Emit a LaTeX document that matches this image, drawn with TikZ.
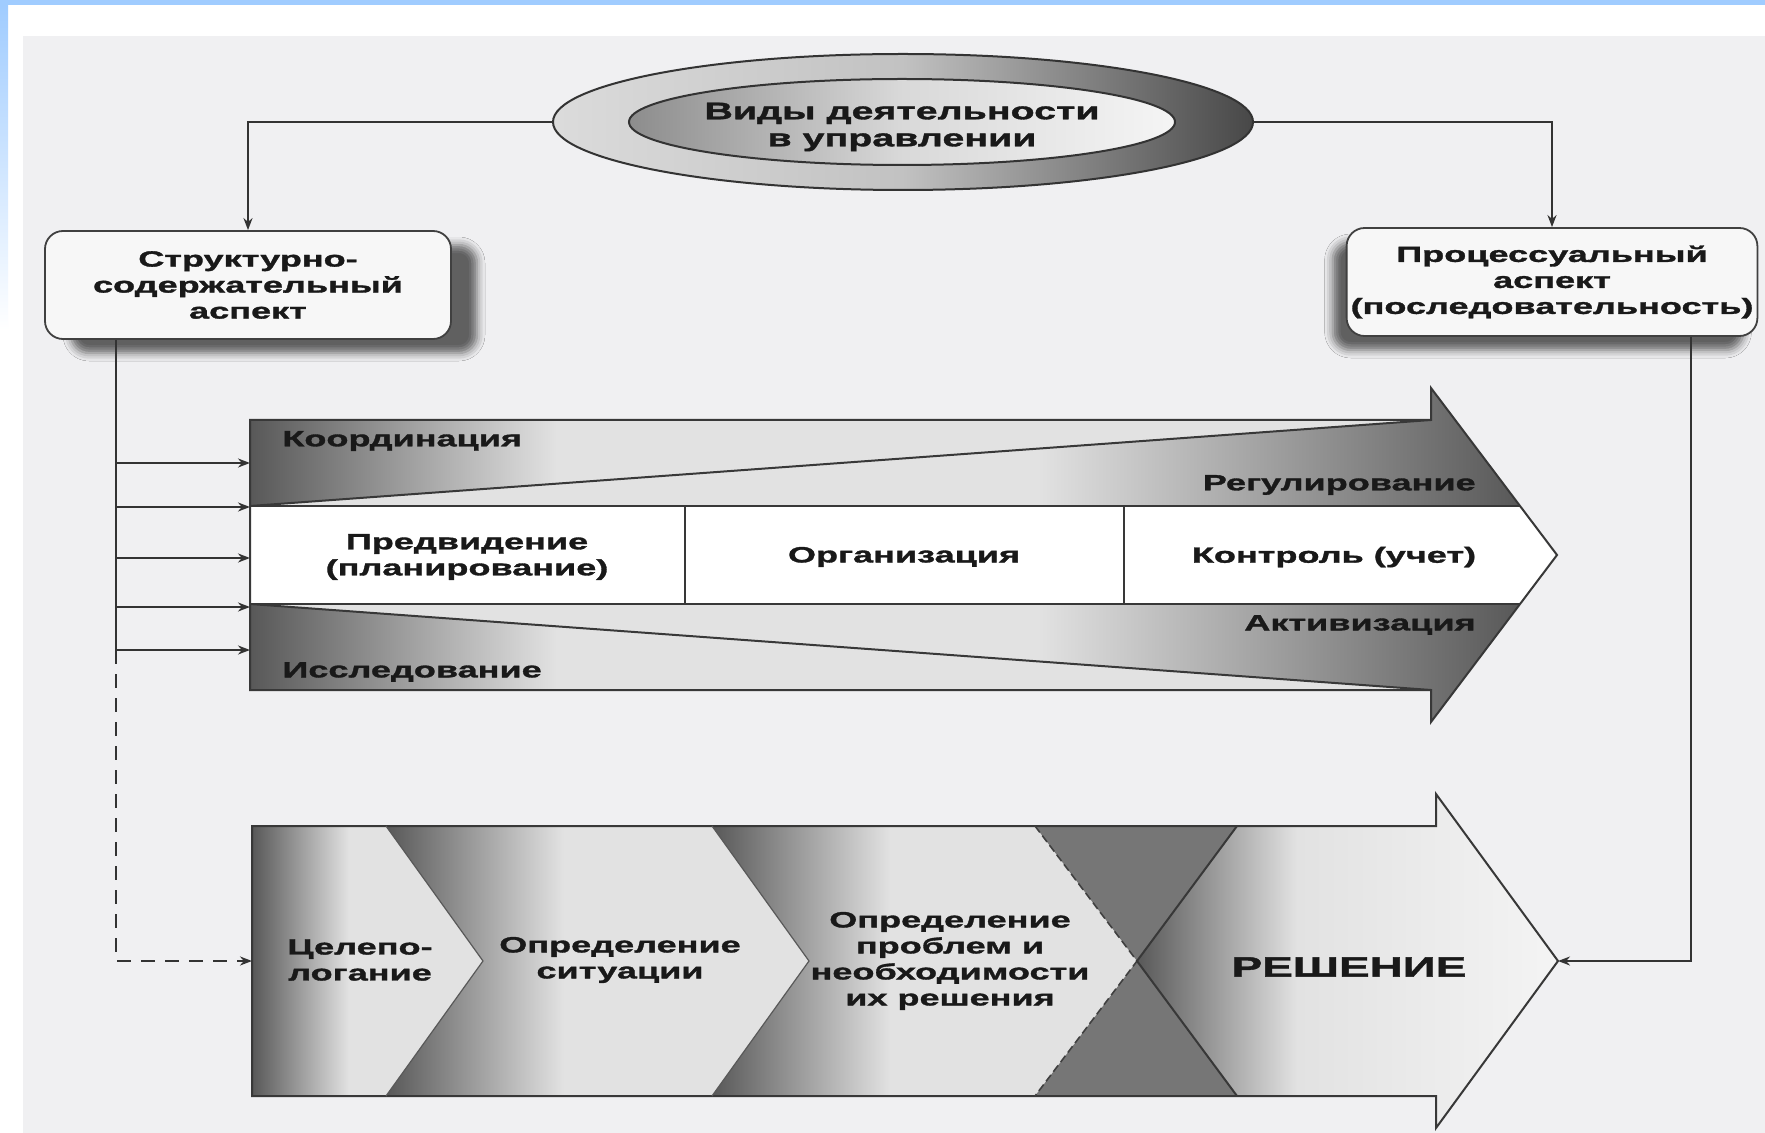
\documentclass[tikz,border=0pt]{standalone}
\usepackage{fontspec}
\newfontfamily\widesans{Liberation Sans}[FakeStretch=1.64, BoldFeatures={FakeBold=1.5}]
\usepackage{tikz}
\usetikzlibrary{arrows.meta,positioning,calc,shapes.geometric,shadows.blur}
\definecolor{shdark}{RGB}{88,88,88}
\definecolor{shlight}{RGB}{226,226,226}
\definecolor{shpale}{RGB}{244,244,244}
\pgfdeclarehorizontalshading{fadeout}{100bp}{color(0bp)=(shdark); color(25bp)=(shdark); color(38bp)=(shlight); color(100bp)=(shlight)}
\pgfdeclarehorizontalshading{fadein}{100bp}{color(0bp)=(shlight); color(56bp)=(shlight); color(75bp)=(shdark); color(100bp)=(shdark)}
\pgfdeclarehorizontalshading{segfade}{100bp}{color(0bp)=(shdark); color(25bp)=(shdark); color(46bp)=(shlight); color(100bp)=(shlight)}
\pgfdeclarehorizontalshading{solfade}{100bp}{color(0bp)=(shdark); color(25bp)=(shdark); color(44bp)=(shlight); color(75bp)=(shpale); color(100bp)=(shpale)}
\tikzset{
  >={Stealth[length=6pt,width=4.5pt]},
  every node/.append style={font=\widesans\bfseries\fontsize{11}{13}\selectfont, text=black!90},
}

\begin{document}
\begin{tikzpicture}[
    x=0.5pt, y=-0.5pt,
    side/.style={
        rectangle,
        draw=black!75,
        fill=white!97!black,
        rounded corners=9pt,
        line width=0.9pt,
        minimum width=203pt,
        minimum height=54pt,
        align=center,
        inner sep=2pt
    },
    arrow/.style={
        ->,
        line width=1pt,
        draw=black!80
    },
    dasharrow/.style={arrow, dash pattern=on 7pt off 5pt},
    band/.style={draw=black!78, line width=1pt},
    txt/.style={inner sep=0pt, align=center}
]
% Color definitions
\definecolor{frameblue}{RGB}{160,204,255}
\definecolor{panelgray}{RGB}{240,240,242}
\definecolor{wedgegray}{RGB}{118,118,118}

% Frame
\useasboundingbox (0,0) rectangle (1765,1133);
\fill[white] (0,0) rectangle (1765,1133);
\fill[frameblue] (0,0) rectangle (1765,5);
\shade[top color=frameblue, bottom color=white] (0,5) rectangle (8,330);
\fill[panelgray] (23,36) rectangle (1765,1133);

% Kinds of activity
\node[ellipse, draw=black!80, line width=1pt, minimum width=350pt, minimum height=68pt,
      left color=white!86!black, right color=black!72, middle color=white!76!black] (vid) at (903,122) {};
\node[ellipse, draw=black!80, line width=1pt, minimum width=273pt, minimum height=43pt, inner sep=0pt,
      left color=black!45, right color=white!96!black, middle color=white!85!black] (vidin) at (902,122) {};
\node[txt, font=\widesans\bfseries\fontsize{12}{13.5}\selectfont] (vidtxt) at (902,127) {Виды деятельности\\в управлении};

% Aspects
\node[side, blur shadow={shadow xshift=13pt, shadow yshift=-7pt, shadow blur radius=4pt, shadow opacity=60}] (str) at (248,285) {Структурно-\\содержательный\\аспект};
\node[side, minimum width=205pt, blur shadow={shadow xshift=-7pt, shadow yshift=-7pt, shadow blur radius=4pt, shadow opacity=60}] (proc) at (1552,282) {Процессуальный\\аспект\\(последовательность)};

\draw[arrow] (vid.west) -| (str.north);
\draw[arrow] (vid.east) -| (proc.north);

% Upper block: functions
\shade[shading=fadeout] (250,420) -- (1431,420) -- (250,506) -- cycle;
\shade[shading=fadein] (250,506) -- (1431,420) -- (1431,388) -- (1520,506) -- cycle;
\fill[white] (250,506) -- (1520,506) -- (1557,555) -- (1520,604) -- (250,604) -- cycle;
\shade[shading=fadein] (250,604) -- (1520,604) -- (1431,722) -- (1431,690) -- cycle;
\shade[shading=fadeout] (250,604) -- (1431,690) -- (250,690) -- cycle;
\draw[band] (250,420) -- (1431,420) -- (1431,388) -- (1557,555) -- (1431,722) -- (1431,690) -- (250,690) -- cycle;
\draw[band] (250,506) -- (1520,506) (250,604) -- (1520,604);
\draw[band] (250,506) -- (1431,420) (250,604) -- (1431,690);
\draw[band] (685,506) -- (685,604) (1124,506) -- (1124,604);

\node[txt, anchor=west] (koord) at (282,441) {Координация};
\node[txt, anchor=east] (regul) at (1476,485) {Регулирование};
\node[txt] (plan) at (467,557) {Предвидение\\(планирование)};
\node[txt] (org) at (904,557) {Организация};
\node[txt] (kontr) at (1334,557) {Контроль (учет)};
\node[txt, anchor=east] (aktiv) at (1476,625) {Активизация};
\node[txt, anchor=west] (issl) at (282,672) {Исследование};

% Structural links
\coordinate (trunk) at ($(str.south west)+(72,0)$);
\foreach \yy [count=\i] in {463,507,558,607,650} {
  \coordinate (in\i) at (250,\yy);
  \draw[arrow] (trunk |- in\i) -- (in\i);
}
\draw[line width=1pt, draw=black!80] (trunk) -- (trunk |- in5);

% Lower block: decision process
\shade[shading=segfade] (252,826) -- (386,826) -- (483,961) -- (386,1096) -- (252,1096) -- cycle;
\shade[shading=segfade] (386,826) -- (712,826) -- (809,961) -- (712,1096) -- (386,1096) -- (483,961) -- cycle;
\shade[shading=segfade] (712,826) -- (1035,826) -- (1137,961) -- (1035,1096) -- (712,1096) -- (809,961) -- cycle;
\fill[wedgegray] (1035,826) -- (1237,826) -- (1137,961) -- cycle;
\fill[wedgegray] (1035,1096) -- (1237,1096) -- (1137,961) -- cycle;
\shade[shading=solfade] (1237,826) -- (1436,826) -- (1436,794) -- (1558,961) -- (1436,1128) -- (1436,1096) -- (1237,1096) -- (1137,961) -- cycle;
\draw[band] (252,826) -- (1436,826) -- (1436,794) -- (1558,961) -- (1436,1128) -- (1436,1096) -- (252,1096) -- cycle;
\draw[black!65, line width=0.6pt] (386,826) -- (483,961) -- (386,1096) (712,826) -- (809,961) -- (712,1096);
\draw[black!75, line width=0.8pt, dash pattern=on 4pt off 2pt] (1035,826) -- (1137,961) -- (1035,1096);
\draw[band] (1237,826) -- (1137,961) -- (1237,1096);

\node[txt] (goalset) at (360,960) {Целепо-\\логание};
\node[txt] (sit) at (620,960) {Определение\\ситуации};
\node[txt] (probl) at (950,961) {Определение\\проблем и\\необходимости\\их решения};
\node[txt, font=\widesans\bfseries\fontsize{14}{16}\selectfont] (resh) at (1349,967) {РЕШЕНИЕ};

\coordinate (goal) at (252,961);
\coordinate (tip) at (1558,961);
\draw[dasharrow] (trunk |- in5) -- (trunk |- goal) -- (goal);

% Process link
\coordinate (back) at ($(proc.south east)+(-67,0)$);
\draw[arrow] (back) |- (tip);
\end{tikzpicture}
\end{document}
